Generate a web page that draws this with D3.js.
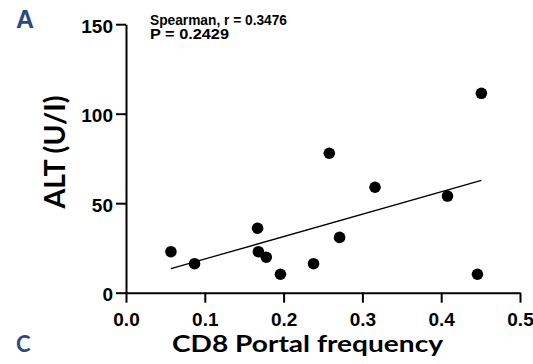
<!DOCTYPE html>
<html>
<head>
<meta charset="utf-8">
<script src="https://cdn.jsdelivr.net/npm/d3@7"></script>
<style>
  body { margin: 0; background: #fff; }
  svg { display: block; }
</style>
</head>
<body>
<div id="chart"></div>
<script>
// values
const cd8Freq = [0.057, 0.087, 0.167, 0.168, 0.178, 0.196, 0.238, 0.258, 0.271, 0.316, 0.408, 0.446, 0.451];
const altValues = [22.9, 16.2, 36.0, 22.9, 19.8, 10.3, 16.2, 77.9, 30.9, 58.9, 54.0, 10.3, 111.4];
const xTicks = [0, 0.1, 0.2, 0.3, 0.4, 0.5];
const yTicks = [0, 50, 100, 150];
const statLines = ["Spearman, r = 0.3476", "P = 0.2429"];

const width = 533, height = 364;
const margin = {top: 24.2, right: 13, bottom: 71.3, left: 126};
const navy = "#2e4a7b";

const svg = d3.select("#chart").append("svg")
  .attr("width", width)
  .attr("height", height);

const x = d3.scaleLinear().domain([0, 0.5]).range([margin.left, width - margin.right]);
const y = d3.scaleLinear().domain([0, 150]).range([height - margin.bottom, margin.top]);

// simple least squares fit for the line
const mx = d3.mean(cd8Freq), my = d3.mean(altValues);
let sxy = 0, sxx = 0;
cd8Freq.forEach((v, i) => { sxy += (v - mx) * (altValues[i] - my); sxx += (v - mx) * (v - mx); });
const slope = sxy / sxx, icpt = my - slope * mx;
const fitX = d3.extent(cd8Freq);

const xAxis = svg.append("g")
  .attr("transform", `translate(0,${y(0)})`)
  .call(d3.axisBottom(x).tickValues(xTicks).tickFormat(d3.format(".1f")).tickSize(10).tickSizeOuter(0));

const yAxis = svg.append("g")
  .attr("transform", `translate(${x(0)},0)`)
  .call(d3.axisLeft(y).tickValues(yTicks).tickSize(10).tickSizeOuter(0));

[xAxis, yAxis].forEach(g => {
  g.select(".domain").attr("stroke", "#000").attr("stroke-width", 2);
  g.selectAll(".tick line").attr("stroke", "#000").attr("stroke-width", 2);
  g.selectAll(".tick text")
    .attr("fill", "#000")
    .style("font-family", "'Liberation Sans', Arial, sans-serif")
    .style("font-weight", "bold")
    .style("font-size", "19px");
});
xAxis.selectAll(".tick text").attr("y", 20).attr("dy", "0.71em");
yAxis.selectAll(".tick text").attr("x", -13).attr("dy", "0.42em");

// regression line
svg.append("line")
  .attr("x1", x(fitX[0])).attr("y1", y(slope * fitX[0] + icpt))
  .attr("x2", x(fitX[1])).attr("y2", y(slope * fitX[1] + icpt))
  .attr("stroke", "#000").attr("stroke-width", 1.3);

svg.selectAll("circle.pt")
  .data(cd8Freq)
  .enter().append("circle")
  .attr("class", "pt")
  .attr("cx", d => x(d))
  .attr("cy", (d, i) => y(altValues[i]))
  .attr("r", 5.8)
  .attr("fill", "#000");

// stats text
svg.append("g").selectAll("text")
  .data(statLines)
  .enter().append("text")
  .attr("x", 150)
  .attr("y", (d, i) => 25 + i * 14)
  .attr("textLength", (d, i) => i === 0 ? 137 : 79)
  .attr("lengthAdjust", "spacingAndGlyphs")
  .style("font-family", "'Liberation Sans', Arial, sans-serif")
  .style("font-weight", "bold")
  .style("font-size", "14px")
  .text(d => d);

// axis titles
svg.append("text")
  .attr("transform", "translate(65,152) rotate(-90)")
  .attr("text-anchor", "middle")
  .attr("textLength", 113)
  .attr("lengthAdjust", "spacingAndGlyphs")
  .style("font-family", "Lato, 'Open Sans', sans-serif")
  .style("font-weight", "bold")
  .style("font-size", "28px")
  .text("ALT (U/I)");

svg.append("text")
  .attr("x", 307.5)
  .attr("y", 352)
  .attr("text-anchor", "middle")
  .attr("textLength", 271)
  .attr("lengthAdjust", "spacingAndGlyphs")
  .style("font-family", "Lato, 'Open Sans', sans-serif")
  .style("font-weight", "bold")
  .style("font-size", "23px")
  .text("CD8 Portal frequency");

// panel letters
svg.append("text")
  .attr("x", 16).attr("y", 28)
  .attr("fill", navy)
  .style("font-family", "'Liberation Sans', Arial, sans-serif")
  .style("font-weight", "bold")
  .style("font-size", "25px")
  .text("A");

svg.append("text")
  .attr("x", 16).attr("y", 352)
  .attr("fill", navy)
  .style("font-family", "Lato, 'Open Sans', sans-serif")
  .style("font-weight", "bold")
  .style("font-size", "22px")
  .text("C");
</script>
</body>
</html>
